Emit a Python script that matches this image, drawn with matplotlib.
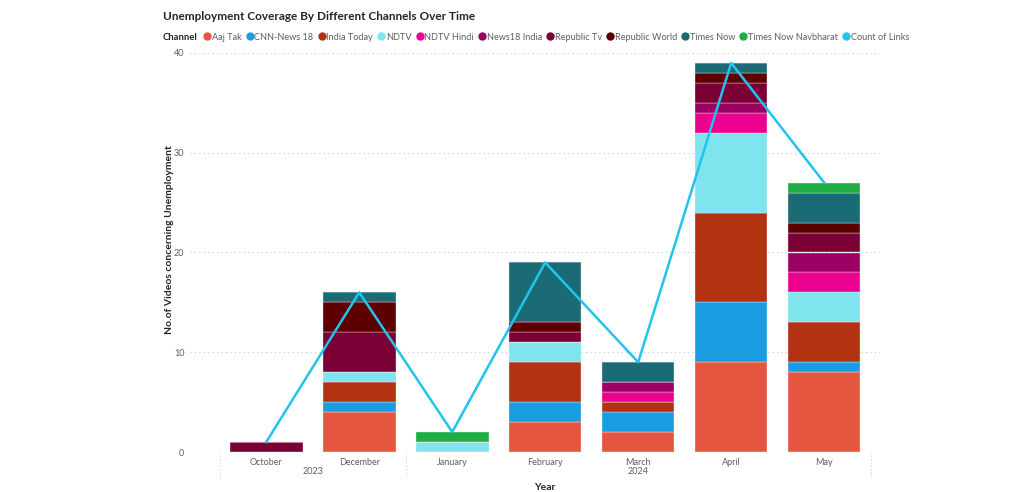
import numpy as np
import matplotlib.pyplot as plt
from matplotlib.lines import Line2D
import matplotlib.transforms as mtransforms

plt.rcParams['font.family'] = ['Lato', 'DejaVu Sans']

# data
months = ['October', 'December', 'January', 'February', 'March', 'April', 'May']
years = ['2023', '2024']
channels = ['Aaj Tak', 'CNN-News 18', 'India Today', 'NDTV', 'NDTV Hindi', 'News18 India',
            'Republic Tv', 'Republic World', 'Times Now', 'Times Now Navbharat']
aaj_tak = [0, 4, 0, 3, 2, 9, 8]
cnn_news18 = [0, 1, 0, 2, 2, 6, 1]
india_today = [0, 2, 0, 4, 1, 9, 4]
ndtv = [0, 1, 1, 2, 0, 8, 3]
ndtv_hindi = [0, 0, 0, 0, 1, 2, 2]
news18_india = [0, 0, 0, 0, 1, 1, 2]
republic_tv = [1, 4, 0, 1, 0, 2, 2]
republic_world = [0, 3, 0, 1, 0, 1, 1]
times_now = [0, 1, 0, 6, 2, 1, 3]
times_now_navbharat = [0, 0, 1, 0, 0, 0, 1]
count_of_links = [1, 16, 2, 19, 9, 39, 27]

series = [aaj_tak, cnn_news18, india_today, ndtv, ndtv_hindi, news18_india,
          republic_tv, republic_world, times_now, times_now_navbharat]
colors = ['#E55641', '#1A9DE0', '#B23211', '#80E4EE', '#EC0090', '#9B0063',
          '#7B0035', '#5C0000', '#1B6B77', '#1FAE45']
line_color = '#22C4EE'

fig = plt.figure(figsize=(10.24, 4.92), dpi=100)
ax = fig.add_axes([190 / 1024, 1 - 452 / 492, 690 / 1024, 399 / 492])

x = np.arange(len(months))
bottom = np.zeros(len(months))
for vals, c in zip(series, colors):
    ax.bar(x, vals, 0.78, bottom=bottom, color=c, edgecolor='#F4F4F4', linewidth=0.25, zorder=2)
    bottom += np.array(vals)

ax.plot(x, count_of_links, color=line_color, linewidth=1.8, zorder=3, clip_on=False)

ax.set_xlim(-0.82, 6.6)
ax.set_ylim(0, 40)
ax.set_yticks([0, 10, 20, 30, 40])
ax.grid(axis='y', linestyle=(0, (1, 3)), color='#C8C8C8', linewidth=0.8, zorder=0)
for s in ax.spines.values():
    s.set_visible(False)
ax.set_xticks(x)
ax.set_xticklabels(months)
ax.tick_params(axis='both', length=0, labelsize=6.5, labelcolor='#605E5C')
ax.tick_params(axis='x', pad=4)
ax.tick_params(axis='y', pad=4)

# year groups
trans = mtransforms.blended_transform_factory(ax.transData, ax.transAxes)
for xs in [-0.5, 1.5, 6.5]:
    ax.plot([xs, xs], [0, -0.065], transform=trans, color='#D0D0D0',
            linestyle=(0, (1, 2)), linewidth=0.8, clip_on=False)
ax.text(0.5, -0.05, years[0], transform=trans, ha='center', va='center',
        fontsize=6.5, color='#605E5C')
ax.text(4, -0.05, years[1], transform=trans, ha='center', va='center',
        fontsize=6.5, color='#605E5C')
ax.text(3, -0.088, 'Year', transform=trans, ha='center', va='center',
        fontsize=7.5, color='#252423', fontweight='bold')

fig.text(170 / 1024, 1 - 240 / 492, 'No.of Videos concerning Unemployment', rotation=90,
         ha='center', va='center', fontsize=7.5, color='#252423', fontweight='bold')

fig.text(163 / 1024, 1 - 17 / 492, 'Unemployment Coverage By Different Channels Over Time',
         ha='left', va='center', fontsize=8.5, color='#252423', fontweight='bold')

fig.text(163 / 1024, 1 - 37 / 492, 'Channel', ha='left', va='center',
         fontsize=6.8, color='#252423', fontweight='bold')
handles = [Line2D([], [], marker='o', linestyle='none', color=c, markersize=5)
           for c in colors + [line_color]]
labels = channels + ['Count of Links']
fig.legend(handles, labels, loc='center left', bbox_to_anchor=(198 / 1024, 1 - 37 / 492),
           ncol=11, frameon=False, fontsize=6.6, handletextpad=0.0, columnspacing=0.4,
           handlelength=1.0, borderpad=0, labelcolor='#605E5C')

fig.savefig('out.png', dpi=100)
